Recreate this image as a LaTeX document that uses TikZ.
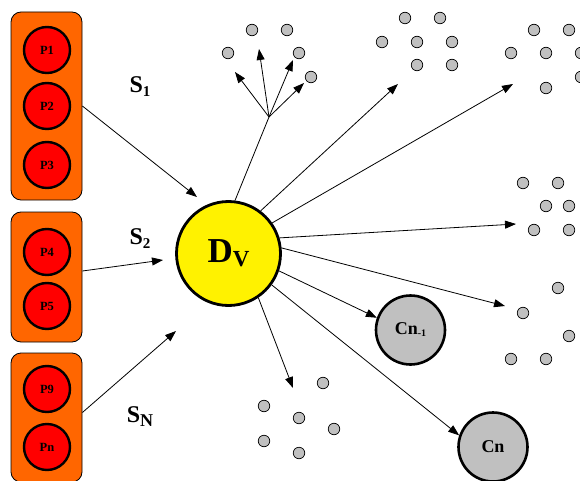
\documentclass[tikz,border=0pt]{standalone}
\usepackage{fontspec}
\setmainfont{Liberation Serif}
\usetikzlibrary{arrows.meta}
\definecolor{boxorange}{HTML}{FF6600}
\definecolor{dotgray}{HTML}{C0C0C0}
\begin{document}
\begin{tikzpicture}[x=1pt,y=-1pt,
  obox/.style={draw=black, fill=boxorange, rounded corners=10pt, minimum width=71pt, line width=0.8pt, inner sep=0pt},
  pnode/.style={circle, draw=black, fill=red, line width=2.4pt, minimum size=46pt, inner sep=0pt, font=\fontsize{12.5}{12.5}\selectfont\bfseries},
  dvnode/.style={circle, draw=black, fill=yellow, line width=2.8pt, minimum size=104pt, inner sep=0pt},
  cnode/.style={circle, draw=black, fill=dotgray, line width=2.6pt, minimum size=69pt, inner sep=0pt},
  dot/.style={circle, draw=black, fill=dotgray, line width=0.7pt, minimum size=11.5pt, inner sep=0pt},
  slabel/.style={font=\fontsize{24}{24}\selectfont\bfseries, inner sep=0pt},
  conn/.style={line width=0.8pt, -{Triangle[length=11pt,width=8pt]}},
  plain/.style={line width=0.8pt}
]
\useasboundingbox (0,0) rectangle (580,481);

% boxes
\node[obox, minimum height=188pt] (box1) at (46.5,106) {};
\node[obox, minimum height=130pt] (box2) at (46.5,277) {};
\node[obox, minimum height=129pt] (box3) at (46.5,417.5) {};

\node[pnode] (p1) at (47,50) {P1};
\node[pnode] (p2) at (47,106) {P2};
\node[pnode] (p3) at (47,165) {P3};
\node[pnode] (p4) at (47,252) {P4};
\node[pnode] (p5) at (47,306) {P5};
\node[pnode] (p9) at (47,389) {P9};
\node[pnode] (pn) at (47,447) {Pn};

% labels S
\node[slabel] (s1) at (140,87) {S\raisebox{-4pt}{\fontsize{15}{15}\selectfont 1}};
\node[slabel] (s2) at (140,239) {S\raisebox{-4pt}{\fontsize{15}{15}\selectfont 2}};
\node[slabel] (sn) at (140,417) {S\raisebox{-4pt}{\fontsize{18}{18}\selectfont N}};

% central node
\node[dvnode] (dv) at (228.5,253.5) {\fontsize{35}{35}\selectfont\bfseries D\raisebox{-4pt}{\fontsize{23}{23}\selectfont V}};

% clusters
\node[cnode] (cn1) at (410.5,330) {\fontsize{18}{18}\selectfont\bfseries Cn\raisebox{-2pt}{\fontsize{10}{10}\selectfont -1}};
\node[cnode] (cn) at (493,447) {\fontsize{18}{18}\selectfont\bfseries Cn};

% incoming arrows
\coordinate (t1) at (197,197);
\coordinate (t2) at (163,260);
\coordinate (tn) at (176,331);
\draw[conn] (box1.east) -- (t1);
\draw[conn] ([yshift=6pt]box2.east) -- (t2);
\draw[conn] ([yshift=5pt]box3.east) -- (tn);

% group 1 (branching)
\node[dot] (a1) at (228,53) {};
\node[dot] (a2) at (252,30) {};
\node[dot] (a3) at (287,30) {};
\node[dot] (a4) at (299,53) {};
\node[dot] (a5) at (311,77) {};
\coordinate (br) at (269,117);
\coordinate (ba1) at (235,72);
\coordinate (ba2) at (259,49);
\coordinate (ba3) at (293,60);
\coordinate (ba4) at (304,83);
\draw[plain] (dv.83) -- (br);
\draw[conn] (br) -- (ba1);
\draw[conn] (br) -- (ba2);
\draw[conn] (br) -- (ba3);
\draw[conn] (br) -- (ba4);

% group 2
\node[dot] (b1) at (405,18) {};
\node[dot] (b2) at (440,18) {};
\node[dot] (b3) at (382,42) {};
\node[dot] (b4) at (417,42) {};
\node[dot] (b5) at (452,42) {};
\node[dot] (b6) at (417,65) {};
\node[dot] (b7) at (452,65) {};
\coordinate (tb) at (398,84);
\draw[conn] (dv.53) -- (tb);

% group 3
\node[dot] (c1) at (534,30) {};
\node[dot] (c2) at (569,30) {};
\node[dot] (c3) at (511,53) {};
\node[dot] (c4) at (546,53) {};
\node[dot] (c5) at (581,53) {};
\node[dot] (c6) at (581,77) {};
\node[dot] (c7) at (546,88) {};
\coordinate (tc) at (513,84);
\draw[conn] (dv.35) -- (tc);

% group 4
\node[dot] (d1) at (523,183) {};
\node[dot] (d2) at (558,183) {};
\node[dot] (d3) at (546,206) {};
\node[dot] (d4) at (569,206) {};
\node[dot] (d5) at (534,230) {};
\node[dot] (d6) at (569,230) {};
\coordinate (td) at (516,224);
\draw[conn] (dv.17) -- (td);

% group 5
\node[dot] (e1) at (558,288) {};
\node[dot] (e2) at (523,313) {};
\node[dot] (e3) at (569,336) {};
\node[dot] (e4) at (511,359) {};
\node[dot] (e5) at (546,359) {};
\coordinate (te) at (505,306);
\draw[conn] (dv.6) -- (te);

% group 6
\node[dot] (f1) at (323,383) {};
\node[dot] (f2) at (264,406) {};
\node[dot] (f3) at (299,418) {};
\node[dot] (f4) at (334,429) {};
\node[dot] (f5) at (264,441) {};
\node[dot] (f6) at (299,453) {};
\coordinate (tf) at (293,388);
\draw[conn] (dv.-56) -- (tf);

% to clusters
\draw[conn] (dv.-19) -- (cn1.160);
\draw[conn] (dv.-36) -- (cn.161);
\end{tikzpicture}
\end{document}
